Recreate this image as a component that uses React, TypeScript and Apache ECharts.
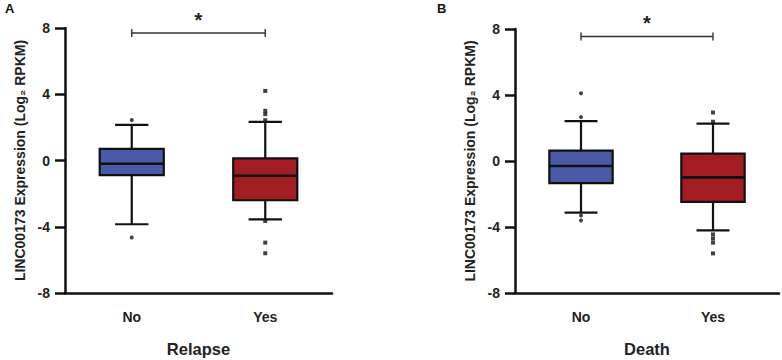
import React, { useEffect, useRef } from "react";
import * as echarts from "echarts";

const categories = ["No", "Yes"];
const yTicks = [-8, -4, 0, 4, 8];
// [min whisker, Q1, median, Q3, max whisker]
const relapseBoxes = [
  [-3.85, -0.88, -0.2, 0.7, 2.15],
  [-3.55, -2.4, -0.92, 0.13, 2.33],
];
const relapseOutliersNo = [2.45, -4.65];
const relapseOutliersYes = [4.2, 3.0, 2.8, 2.43, -3.65, -4.96, -5.6];
const deathBoxes = [
  [-3.13, -1.34, -0.3, 0.63, 2.42],
  [-4.2, -2.48, -0.99, 0.45, 2.26],
];
const deathOutliersNo = [4.1, 2.66, -3.3, -3.6];
const deathOutliersYes = [2.94, 2.38, -4.45, -4.7, -4.95, -5.6];
const sigRelapse = 7.7;
const sigDeath = 7.55;
const boxColors = ["#4b59a9", "#a11d22"];

const FONT = "Liberation Sans, Arial, sans-serif";

function boxRender(params: any, api: any) {
  const idx = api.value(0);
  const mn = api.value(1), q1 = api.value(2), md = api.value(3), q3 = api.value(4), mx = api.value(5);
  const band = api.size([1, 0])[0];
  const w = band * 0.48;
  const cw = w * 0.52;
  const pMin = api.coord([idx, mn]);
  const pQ1 = api.coord([idx, q1]);
  const pMd = api.coord([idx, md]);
  const pQ3 = api.coord([idx, q3]);
  const pMax = api.coord([idx, mx]);
  const x = pMd[0];
  const ls = { stroke: "#111", lineWidth: 2.2 };
  return {
    type: "group",
    children: [
      { type: "line", shape: { x1: x, y1: pMax[1], x2: x, y2: pQ3[1] }, style: ls },
      { type: "line", shape: { x1: x, y1: pQ1[1], x2: x, y2: pMin[1] }, style: ls },
      { type: "line", shape: { x1: x - cw / 2, y1: pMax[1], x2: x + cw / 2, y2: pMax[1] }, style: ls },
      { type: "line", shape: { x1: x - cw / 2, y1: pMin[1], x2: x + cw / 2, y2: pMin[1] }, style: ls },
      {
        type: "rect",
        shape: { x: x - w / 2, y: pQ3[1], width: w, height: pQ1[1] - pQ3[1] },
        style: { fill: boxColors[idx], stroke: "#111", lineWidth: 2.2 },
      },
      { type: "line", shape: { x1: x - w / 2, y1: pMd[1], x2: x + w / 2, y2: pMd[1] }, style: { stroke: "#111", lineWidth: 2.6 } },
    ],
  };
}

function sigRender(params: any, api: any) {
  const y = api.value(2);
  const p0 = api.coord([api.value(0), y]);
  const p1 = api.coord([api.value(1), y]);
  const ls = { stroke: "#333", lineWidth: 1.4 };
  return {
    type: "group",
    children: [
      { type: "line", shape: { x1: p0[0], y1: p0[1], x2: p1[0], y2: p1[1] }, style: ls },
      { type: "line", shape: { x1: p0[0], y1: p0[1] - 4, x2: p0[0], y2: p0[1] + 4 }, style: ls },
      { type: "line", shape: { x1: p1[0], y1: p1[1] - 4, x2: p1[0], y2: p1[1] + 4 }, style: ls },
      {
        type: "text",
        style: {
          text: "*",
          x: (p0[0] + p1[0]) / 2,
          y: p0[1] - 3,
          align: "center",
          verticalAlign: "bottom",
          fontSize: 20,
          fontWeight: "bold",
          fontFamily: FONT,
          fill: "#222",
        },
      },
    ],
  };
}

function makeAxes(gridIndex: number, xname: string) {
  const xAxis = {
    type: "category",
    gridIndex,
    data: categories,
    boundaryGap: true,
    name: xname,
    nameLocation: "middle",
    nameGap: 47,
    nameTextStyle: { fontSize: 16.5, fontWeight: "bold", color: "#222", fontFamily: FONT },
    axisLine: { onZero: false, lineStyle: { color: "#111", width: 2.5 } },
    axisTick: { alignWithLabel: true, length: 11, lineStyle: { color: "#111", width: 2.5 } },
    axisLabel: { margin: 17, fontSize: 14, fontWeight: "bold", color: "#222", fontFamily: FONT },
    splitLine: { show: false },
  };
  const yAxis = {
    type: "value",
    gridIndex,
    min: -8,
    max: 8,
    interval: 4,
    name: "LINC00173 Expression (Log₂ RPKM)",
    nameLocation: "middle",
    nameRotate: 90,
    nameGap: 38,
    nameTextStyle: { fontSize: 14, fontWeight: "bold", color: "#222", fontFamily: FONT },
    axisLine: { show: true, onZero: false, lineStyle: { color: "#111", width: 2.5 } },
    axisTick: { show: true, length: 10, lineStyle: { color: "#111", width: 2.5 } },
    axisLabel: {
      margin: 15,
      fontSize: 14,
      fontWeight: "bold",
      color: "#222",
      fontFamily: FONT,
      formatter: (v: number) => (yTicks.includes(v) ? String(v) : ""),
    },
    splitLine: { show: false },
  };
  return { xAxis, yAxis };
}

export default function App() {
  const ref = useRef<HTMLDivElement>(null);
  useEffect(() => {
    if (!ref.current) return;
    const chart = echarts.init(ref.current, null, { renderer: "svg" });
    const a = makeAxes(0, "Relapse");
    const b = makeAxes(1, "Death");
    const boxData = (boxes: number[][]) => boxes.map((bx, i) => [i, ...bx]);
    const outl = (cat: number, vals: number[]) => vals.map((v) => [cat, v]);
    chart.setOption({
      animation: false,
      backgroundColor: "#fff",
      grid: [
        { left: 65, top: 28, width: 267, bottom: 67, containLabel: false, outerBoundsMode: "none" },
        { left: 515, top: 29, width: 264, bottom: 67, containLabel: false, outerBoundsMode: "none" },
      ],
      xAxis: [a.xAxis, b.xAxis],
      yAxis: [a.yAxis, b.yAxis],
      graphic: [
        { type: "text", left: 5, top: 2, style: { text: "A", fontSize: 13, fontWeight: "bold", fontFamily: FONT, fill: "#111" } },
        { type: "text", left: 437, top: 2, style: { text: "B", fontSize: 13, fontWeight: "bold", fontFamily: FONT, fill: "#111" } },
      ],
      series: [
        { type: "custom", xAxisIndex: 0, yAxisIndex: 0, renderItem: boxRender, data: boxData(relapseBoxes), clip: false },
        { type: "custom", xAxisIndex: 1, yAxisIndex: 1, renderItem: boxRender, data: boxData(deathBoxes), clip: false },
        { type: "scatter", xAxisIndex: 0, yAxisIndex: 0, symbol: "circle", symbolSize: 4, itemStyle: { color: "#111" }, data: outl(0, relapseOutliersNo), z: 5 },
        { type: "scatter", xAxisIndex: 0, yAxisIndex: 0, symbol: "rect", symbolSize: 4, itemStyle: { color: "#111" }, data: outl(1, relapseOutliersYes), z: 5 },
        { type: "scatter", xAxisIndex: 1, yAxisIndex: 1, symbol: "circle", symbolSize: 4, itemStyle: { color: "#111" }, data: outl(0, deathOutliersNo), z: 5 },
        { type: "scatter", xAxisIndex: 1, yAxisIndex: 1, symbol: "rect", symbolSize: 4, itemStyle: { color: "#111" }, data: outl(1, deathOutliersYes), z: 5 },
        { type: "custom", xAxisIndex: 0, yAxisIndex: 0, renderItem: sigRender, data: [[0, 1, sigRelapse]], clip: false },
        { type: "custom", xAxisIndex: 1, yAxisIndex: 1, renderItem: sigRender, data: [[0, 1, sigDeath]], clip: false },
      ],
    });
    return () => chart.dispose();
  }, []);
  return <div ref={ref} style={{ width: 782, height: 360, position: "absolute", left: 0, top: 0 }} />;
}
